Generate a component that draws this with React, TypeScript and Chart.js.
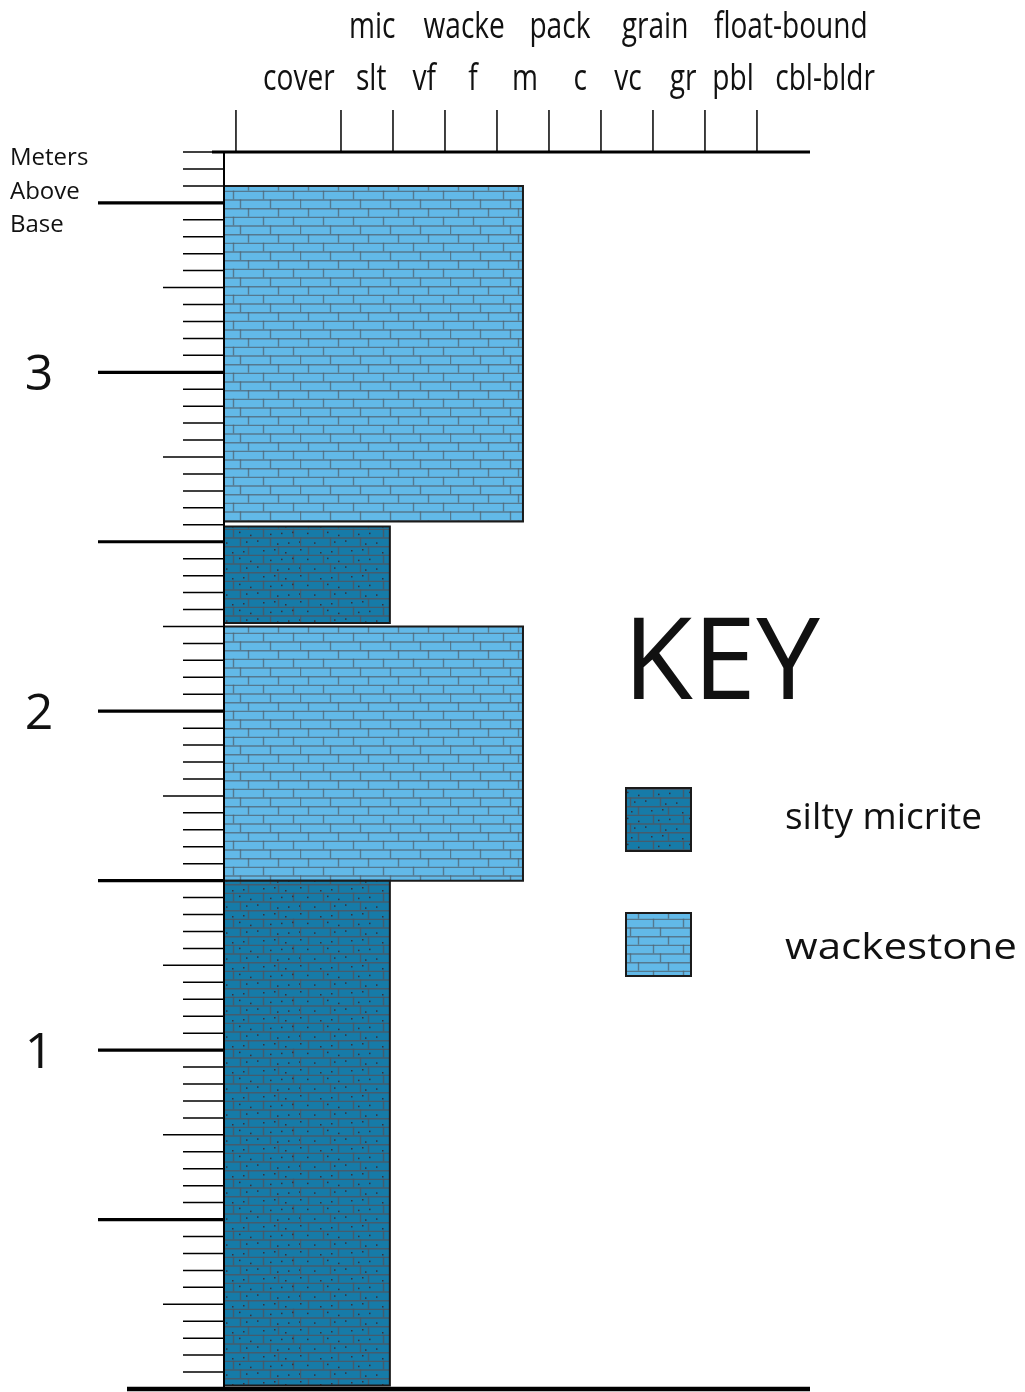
import React, { useEffect, useRef } from 'react';
import { Chart, registerables } from 'chart.js';

Chart.register(...registerables);

// ---- data ----
const depthMin = 0;
const depthMax = 3.65;
const grainMax = 11.27;
const bedBase = [0.01, 1.5, 2.26, 2.56];
const bedTop = [1.5, 2.25, 2.545, 3.55];
const bedGrain = [3.19, 5.75, 3.19, 5.75];
const bedLith = ['silty micrite', 'wackestone', 'silty micrite', 'wackestone'];
const lithNames = ['silty micrite', 'wackestone'];
const grainLabels = ['cover', 'slt', 'vf', 'f', 'm', 'c', 'vc', 'gr', 'pbl', 'cbl-bldr'];
const grainTickValues = [0.23, 2.25, 3.25, 4.25, 5.25, 6.25, 7.25, 8.25, 9.25, 10.25];
const grainLabelValues = [1.44, 2.83, 3.85, 4.79, 5.79, 6.85, 7.77, 8.83, 9.79, 11.56];
const carbLabels = ['mic', 'wacke', 'pack', 'grain', 'float-bound'];
const carbLabelValues = [2.85, 4.62, 6.46, 8.29, 10.9];
const meterLabels = [1, 2, 3];
const tickStep = 0.05;

const FONT = '"Open Sans", "Noto Sans", sans-serif';

function makeBrickPattern(base: string, mortar: string, dotted: boolean): CanvasPattern | string {
  const W = 150;
  const H = 26;
  const c = document.createElement('canvas');
  c.width = W;
  c.height = H;
  const g = c.getContext('2d');
  if (!g) return base;
  g.fillStyle = base;
  g.fillRect(0, 0, W, H);
  const rowH = H / 3;
  const offsets = [8, 23, 0];
  g.strokeStyle = mortar;
  g.lineWidth = 1.4;
  for (let r = 0; r < 3; r++) {
    const y0 = r * rowH;
    g.beginPath();
    g.moveTo(0, y0 + 0.7);
    g.lineTo(W, y0 + 0.7);
    g.stroke();
    for (let xj = offsets[r]; xj < W; xj += 30) {
      g.beginPath();
      g.moveTo(xj + 0.5, y0);
      g.lineTo(xj + 0.5, y0 + rowH);
      g.stroke();
    }
  }
  if (dotted) {
    g.fillStyle = '#3a2f3a';
    for (let r = 0; r < 3; r++) {
      for (let k = 0; k < 10; k++) {
        const dx = (k * 15 + r * 7 + ((k * 5) % 9)) % W;
        const dy = r * rowH + 3 + ((k * 3 + r) % 4);
        g.fillRect(dx, dy, 1.5, 1.5);
      }
    }
  }
  const p = g.createPattern(c, 'repeat');
  return p || base;
}

export default function App() {
  const ref = useRef<HTMLCanvasElement | null>(null);

  useEffect(() => {
    const canvas = ref.current;
    if (!canvas) return;
    const fills: Record<string, CanvasPattern | string> = {
      'silty micrite': makeBrickPattern('#167ba8', 'rgba(80,85,95,0.8)', true),
      wackestone: makeBrickPattern('#62b9e8', 'rgba(80,100,115,0.75)', false),
    };

    const datasets = bedBase.map((b, i) => ({
      label: bedLith[i],
      data: [
        { x: 0, y: b },
        { x: bedGrain[i], y: b },
        { x: bedGrain[i], y: bedTop[i] },
        { x: 0, y: bedTop[i] },
        { x: 0, y: b },
      ],
      showLine: true,
      fill: 'shape' as any,
      backgroundColor: fills[bedLith[i]] as any,
      borderColor: '#1b1b1b',
      borderWidth: 2,
      pointRadius: 0,
      tension: 0,
      clip: false as any,
    }));

    const overlay = {
      id: 'stratOverlay',
      afterDraw(chart: any) {
        const { ctx, chartArea, scales } = chart;
        const { left, right, top, bottom } = chartArea;
        const x = scales.x;
        const y = scales.y;
        ctx.save();
        ctx.strokeStyle = '#000';
        ctx.lineCap = 'butt';

        // depth ticks
        const n = Math.round((depthMax - depthMin) / tickStep);
        for (let i = 1; i <= n; i++) {
          const v = depthMin + i * tickStep;
          const py = y.getPixelForValue(v);
          const major = i % 10 === 0;
          const medium = !major && i % 5 === 0;
          const len = major ? 126 : medium ? 61 : 41;
          ctx.lineWidth = major ? 3.2 : 1.5;
          ctx.beginPath();
          ctx.moveTo(left - len, py);
          ctx.lineTo(left, py);
          ctx.stroke();
        }

        // left axis
        ctx.lineWidth = 2;
        ctx.beginPath();
        ctx.moveTo(left, top);
        ctx.lineTo(left, bottom);
        ctx.stroke();

        // top axis
        ctx.lineWidth = 3;
        ctx.beginPath();
        ctx.moveTo(left - 12, top);
        ctx.lineTo(right, top);
        ctx.stroke();

        // grain-size ticks
        ctx.lineWidth = 1.5;
        grainTickValues.forEach((v) => {
          const px = x.getPixelForValue(v);
          ctx.beginPath();
          ctx.moveTo(px, top - 42);
          ctx.lineTo(px, top);
          ctx.stroke();
        });

        // bottom line
        ctx.lineWidth = 4.5;
        ctx.beginPath();
        ctx.moveTo(left - 97, bottom);
        ctx.lineTo(right, bottom);
        ctx.stroke();

        // top labels (condensed)
        ctx.fillStyle = '#111';
        ctx.textAlign = 'center';
        ctx.textBaseline = 'alphabetic';
        ctx.font = `36px ${FONT}`;
        const drawScaled = (t: string, cx: number, by: number, sx: number) => {
          ctx.save();
          ctx.translate(cx, by);
          ctx.scale(sx, 1);
          ctx.fillText(t, 0, 0);
          ctx.restore();
        };
        carbLabels.forEach((t, i) => drawScaled(t, x.getPixelForValue(carbLabelValues[i]), 38, 0.78));
        grainLabels.forEach((t, i) => drawScaled(t, x.getPixelForValue(grainLabelValues[i]), 90, 0.78));

        // meter labels
        ctx.font = `50px ${FONT}`;
        meterLabels.forEach((m) => {
          ctx.fillText(String(m), 39, y.getPixelForValue(m) + 18);
        });

        // axis title
        ctx.textAlign = 'left';
        ctx.font = `24px ${FONT}`;
        ['Meters', 'Above', 'Base'].forEach((t, i) => ctx.fillText(t, 10, 165 + i * 33.5));

        // key
        ctx.font = `114px ${FONT}`;
        ctx.fillText('KEY', 623, 699);
        ctx.font = `37px ${FONT}`;
        const swY = [788, 913];
        const txY = [829, 959];
        const txW = [197, 232];
        lithNames.forEach((name, i) => {
          ctx.fillStyle = fills[name] as any;
          ctx.fillRect(626, swY[i], 65, 63);
          ctx.lineWidth = 2;
          ctx.strokeStyle = '#1b1b1b';
          ctx.strokeRect(626, swY[i], 65, 63);
          ctx.fillStyle = '#111';
          const w = ctx.measureText(name).width;
          const sx = w > 0 ? txW[i] / w : 1;
          ctx.save();
          ctx.translate(785, txY[i]);
          ctx.scale(sx, 1);
          ctx.fillText(name, 0, 0);
          ctx.restore();
        });

        ctx.restore();
      },
    };

    const chart = new Chart(canvas, {
      type: 'scatter',
      data: { datasets: datasets as any },
      options: {
        responsive: false,
        animation: false,
        devicePixelRatio: 1,
        layout: { padding: { left: 224, right: 215, top: 152, bottom: 3 } },
        plugins: { legend: { display: false }, tooltip: { enabled: false }, title: { display: false } },
        scales: {
          x: { type: 'linear', min: 0, max: grainMax, display: false },
          y: { type: 'linear', min: depthMin, max: depthMax, display: false },
        },
        elements: { line: { tension: 0 } },
      },
      plugins: [overlay],
    });
    return () => chart.destroy();
  }, []);

  return (
    <div style={{ position: 'absolute', left: 0, top: 0, width: 1025, height: 1392, background: '#fff' }}>
      <canvas ref={ref} width={1025} height={1392} style={{ display: 'block' }} />
    </div>
  );
}
